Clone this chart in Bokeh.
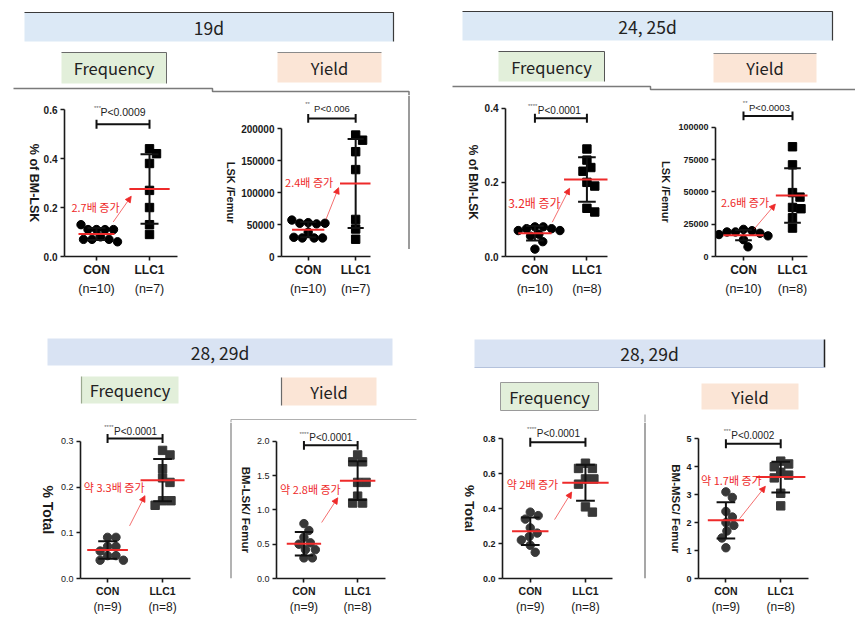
import math
import numpy as np
from bokeh.plotting import figure
from bokeh.layouts import column, row
from bokeh.models import Range1d, FixedTicker, LinearAxis, PrintfTickFormatter, Arrow, NormalHead
from bokeh.core.properties import value
from bokeh.embed import file_html
from bokeh.resources import INLINE

# ---------------- data ----------------
groups = ["CON", "LLC1"]

# 19d
freq19_con = [0.11, 0.11, 0.11, 0.11, 0.13, 0.08, 0.07, 0.07, 0.07, 0.06]
freq19_llc = [0.44, 0.42, 0.38, 0.27, 0.20, 0.13, 0.09]
yield19_con = [53000, 51000, 52000, 52000, 57000, 38000, 29000, 29000, 29000, 30000]
yield19_llc = [190000, 182000, 164000, 136000, 58000, 43000, 27000]
# 24, 25d
freq24_con = [0.08, 0.08, 0.075, 0.075, 0.07, 0.07, 0.06, 0.055, 0.04, 0.02]
freq24_llc = [0.29, 0.26, 0.24, 0.23, 0.20, 0.19, 0.13, 0.12]
yield24_con = [21000, 20000, 19000, 19000, 18000, 17000, 16000, 15000, 13000, 7500]
yield24_llc = [85000, 71000, 49500, 46000, 38000, 37000, 30000, 22000]
# 28, 29d (LSK)
freq28_con = [0.09, 0.09, 0.07, 0.07, 0.06, 0.05, 0.05, 0.04, 0.04]
freq28_llc = [0.28, 0.27, 0.24, 0.22, 0.21, 0.17, 0.17, 0.16]
yield28_con = [0.80, 0.70, 0.60, 0.52, 0.50, 0.42, 0.42, 0.30, 0.30]
yield28_llc = [1.8, 1.7, 1.7, 1.4, 1.4, 1.2, 1.1, 1.1]
# 28, 29d (MSC)
msc_freq_con = [0.38, 0.36, 0.34, 0.29, 0.26, 0.24, 0.22, 0.19, 0.15]
msc_freq_llc = [0.66, 0.63, 0.63, 0.57, 0.57, 0.54, 0.41, 0.38]
msc_yield_con = [3.1, 2.9, 2.4, 2.2, 2.0, 1.9, 1.7, 1.45, 1.1]
msc_yield_llc = [4.2, 4.1, 4.0, 3.8, 3.7, 3.6, 3.05, 2.6]

p_labels = ["P<0.0009", "P<0.006", "P<0.0001", "P<0.0003",
            "P<0.0001", "P<0.0001", "P<0.0001", "P<0.0002"]
star_labels = ["***", "**", "****", "**", "****", "****", "****", "***"]
fold_labels = ["2.7배 증가", "2.4배 증가", "3.2배 증가", "2.6배 증가",
               "약 3.3배 증가", "약 2.8배 증가", "약 2배 증가", "약 1.7배 증가"]
y_titles = ["% of BM-LSK", "LSK /Femur", "% of BM-LSK", "LSK /Femur",
            "% Total", "BM-LSK/ Femur", "% Total", "BM-MSC/ Femur"]
y_ticks = [[0, 0.2, 0.4, 0.6], [0, 50000, 100000, 150000, 200000],
           [0, 0.2, 0.4], [0, 25000, 50000, 75000, 100000],
           [0, 0.1, 0.2, 0.3], [0, 0.5, 1.0, 1.5, 2.0],
           [0, 0.2, 0.4, 0.6, 0.8], [0, 1, 2, 3, 4, 5]]
period_titles = ["19d", "24, 25d", "28, 29d", "28, 29d"]
box_titles = ["Frequency", "Yield"]

series = [(freq19_con, freq19_llc), (yield19_con, yield19_llc),
          (freq24_con, freq24_llc), (yield24_con, yield24_llc),
          (freq28_con, freq28_llc), (yield28_con, yield28_llc),
          (msc_freq_con, msc_freq_llc), (msc_yield_con, msc_yield_llc)]

RED = "#ee2a2a"
AX = "#1a1a1a"
FONT = "Liberation Sans"
KFONT = "Noto Sans CJK KR"

# ---------------- layout / annotation spec per panel ----------------
# tw: width of the strip holding the y title, tx: title centre inside that strip
specs = [
    dict(tw=40, tx=33, w=172, h=215, mbl=24, mbr=35, mbb=52, x0=0.396, x1=2.528, ymax=0.6577, fmt="%.1f",
         tfs="10px", tst="bold", yfs="12.5px", cfs="12px", nfs="12.5px", cst=2, nst=2,
         br=0.540, pt=(1.5, 0.589), pfs="10.5px", fold=(0.98, 0.204), ffs="11px",
         arr=(1.315, 0.141, 1.655, 0.246), hw=(0.34, 0.38), pc="#000000"),
    dict(tw=26, tx=18, w=169, h=215, mbl=42, mbr=37, mbb=50, x0=0.4375, x1=2.3125, ymax=251900, fmt="%d",
         tfs="10px", tst="bold", yfs="11px", cfs="12px", nfs="12.5px", cst=2, nst=2,
         br=216000, pt=(1.5, 232000), pfs="9.5px", fold=(1.02, 116900), ffs="11px",
         arr=(1.375, 58100, 1.64, 107700), hw=(0.34, 0.33), pc="#000000"),
    dict(tw=71, tx=62, w=169, h=215, mbl=22, mbr=43, mbb=54, x0=0.434, x1=2.396, ymax=0.4343, fmt="%.1f",
         tfs="10px", tst="bold", yfs="12px", cfs="12px", nfs="12.5px", cst=2, nst=2,
         br=0.373, pt=(1.47, 0.394), pfs="10px", fold=(0.99, 0.146), ffs="12px",
         arr=(1.334, 0.0925, 1.666, 0.184), hw=(0.32, 0.44), pc="#000000"),
    dict(tw=25, tx=15, w=180, h=215, mbl=40, mbr=48, mbb=52, x0=0.429, x1=2.306, ymax=124700, fmt="%d",
         tfs="9px", tst="bold", yfs="11px", cfs="12px", nfs="12.5px", cst=2, nst=2,
         br=108900, pt=(1.53, 115500), pfs="9.5px", fold=(1.03, 41900), ffs="11px",
         arr=(1.22, 21400, 1.65, 40600), hw=(0.41, 0.34), pc="#000000"),
    dict(tw=57, tx=47, w=172, h=211, mbl=22, mbr=39, mbb=53, x0=0.508, x1=2.508, ymax=0.341, fmt="%.1f",
         tfs="9px", tst="normal", yfs="14px", cfs="10.5px", nfs="12px", cst=2, nst=0,
         br=0.306, pt=(1.51, 0.322), pfs="10px", fold=(1.12, 0.201), ffs="11px",
         arr=(1.40, 0.115, 1.68, 0.181), hw=(0.37, 0.40), pc="#383838"),
    dict(tw=21, tx=13, w=177, h=211, mbl=22, mbr=45, mbb=53, x0=0.489, x1=2.519, ymax=2.273, fmt="%.1f",
         tfs="9px", tst="normal", yfs="11.5px", cfs="10.5px", nfs="12px", cst=2, nst=0,
         br=1.94, pt=(1.50, 2.05), pfs="10px", fold=(1.12, 1.31), ffs="11px",
         arr=(1.33, 0.816, 1.63, 1.176), hw=(0.32, 0.33), pc="#383838"),
    dict(tw=49, tx=39, w=164, h=211, mbl=22, mbr=31, mbb=55, x0=0.497, x1=2.49, ymax=0.893, fmt="%.1f",
         tfs="9px", tst="bold", yfs="13.5px", cfs="10.5px", nfs="12px", cst=2, nst=0,
         br=0.78, pt=(1.51, 0.832), pfs="10px", fold=(1.04, 0.543), ffs="11px",
         arr=(1.44, 0.337, 1.75, 0.495), hw=(0.33, 0.42), pc="#383838"),
    dict(tw=37, tx=29, w=172, h=211, mbl=14, mbr=47, mbb=55, x0=0.5, x1=2.507, ymax=5.583, fmt="%d",
         tfs="9px", tst="bold", yfs="11.5px", cfs="10.5px", nfs="12px", cst=2, nst=0,
         br=4.82, pt=(1.49, 5.12), pfs="10px", fold=(1.10, 3.51), ffs="11px",
         arr=(1.25, 2.14, 1.72, 3.30), hw=(0.33, 0.45), pc="#383838"),
]


def swarm(vals, px_y, px_x, diam=8.4):
    placed, offs = [], []
    for v in vals:
        y = v * px_y
        best = 0.0
        for k in range(0, 200):
            cands = [0.0] if k == 0 else [k * 0.5, -k * 0.5]
            found = None
            for c in cands:
                if all((c - xo) ** 2 + (y - yo) ** 2 >= diam ** 2 for xo, yo in placed):
                    found = c
                    break
            if found is not None:
                best = found
                break
        placed.append((best, y))
        offs.append(best / px_x)
    return offs


def style_axis(ax):
    ax.minor_tick_line_color = None
    ax.major_tick_out = 4
    ax.major_tick_in = 0
    ax.axis_line_width = 1.6
    ax.major_tick_line_width = 1.6
    ax.axis_line_color = AX
    ax.major_tick_line_color = AX
    ax.major_label_text_font = FONT
    ax.major_label_text_color = AX


def title_strip(i):
    """Narrow strip left of a panel carrying its y title, reading top to bottom."""
    s = specs[i]
    p = figure(width=s["tw"], height=s["h"], x_range=Range1d(0, s["tw"]), y_range=Range1d(0, s["ymax"]),
               x_axis_type=None, y_axis_type=None, min_border_left=0, min_border_right=0,
               min_border_top=0, min_border_bottom=s["mbb"], outline_line_color=None,
               toolbar_location=None, output_backend="svg")
    p.grid.visible = False
    p.text(x=[s["tx"]], y=[y_ticks[i][-1] / 2], text=[y_titles[i]], angle=-math.pi / 2,
           text_align="center", text_baseline="middle", text_font=value(FONT),
           text_font_style="bold", text_font_size=s["yfs"], text_color=AX)
    return p


def make_panel(i):
    s = specs[i]
    con, llc = series[i]
    p = figure(width=s["w"], height=s["h"], x_range=Range1d(s["x0"], s["x1"]),
               y_range=Range1d(0, s["ymax"]), output_backend="svg", toolbar_location=None,
               min_border_left=s["mbl"], min_border_right=s["mbr"], min_border_top=0,
               min_border_bottom=s["mbb"], outline_line_color=None)
    p.grid.visible = False
    frame_w = s["w"] - s["mbl"] - s["mbr"]
    frame_h = s["h"] - s["mbb"]
    px_x = frame_w / (s["x1"] - s["x0"])
    px_y = frame_h / s["ymax"]

    # y axis
    ya = p.yaxis[0]
    style_axis(ya)
    ya.ticker = FixedTicker(ticks=y_ticks[i])
    ya.formatter = PrintfTickFormatter(format=s["fmt"])
    ya.bounds = (0, y_ticks[i][-1])
    ya.major_label_text_font_size = s["tfs"]
    ya.major_label_text_font_style = s["tst"]
    ya.major_label_standoff = 3

    # x axis (group names)
    xa = p.xaxis[0]
    style_axis(xa)
    xa.ticker = FixedTicker(ticks=[1, 2])
    xa.major_label_overrides = {1: groups[0], 2: groups[1]}
    xa.major_label_text_font_size = s["cfs"]
    xa.major_label_text_font_style = "bold"
    xa.major_label_standoff = s["cst"]

    # second x axis: sample sizes
    xa2 = LinearAxis(ticker=FixedTicker(ticks=[1, 2]),
                     major_label_overrides={1: f"(n={len(con)})", 2: f"(n={len(llc)})"},
                     axis_line_color=None, major_tick_line_color=None, minor_tick_line_color=None,
                     major_tick_out=0, major_tick_in=0, major_label_standoff=s["nst"],
                     major_label_text_font=FONT, major_label_text_font_size=s["nfs"],
                     major_label_text_color=AX)
    p.add_layout(xa2, "below")

    # points
    for gi, (vals, marker) in enumerate([(con, "circle"), (llc, "square")]):
        offs = swarm(vals, px_y, px_x)
        xs = [gi + 1 + o for o in offs]
        p.scatter(xs, vals, marker=marker, size=8.4, fill_color=s["pc"], line_color=s["pc"])

    # SD bars and red mean lines
    for gi, vals in enumerate([con, llc]):
        m = float(np.mean(vals))
        sd = float(np.std(vals, ddof=1))
        xc = gi + 1
        p.segment(x0=[xc, xc - 0.17, xc - 0.17], y0=[m - sd, m - sd, m + sd],
                  x1=[xc, xc + 0.17, xc + 0.17], y1=[m + sd, m - sd, m + sd],
                  line_color="#111111", line_width=2)
        hw = s["hw"][gi]
        p.segment(x0=[xc - hw], y0=[m], x1=[xc + hw], y1=[m], line_color=RED, line_width=2)

    # significance bracket
    b = s["br"]
    tick_h = 4.5 / px_y
    p.segment(x0=[1, 1, 2], y0=[b, b - tick_h, b - tick_h], x1=[2, 1, 2], y1=[b, b + tick_h, b + tick_h],
              line_color="#111111", line_width=2)
    p.text(x=[s["pt"][0]], y=[s["pt"][1]], text=[p_labels[i]], text_font=value(FONT),
           text_font_size=s["pfs"], text_color="#222222", text_align="center", text_baseline="middle")
    p.text(x=[s["pt"][0]], y=[s["pt"][1]], text=[star_labels[i]], text_font=value(FONT),
           text_font_size="6px", text_color="#666666", text_align="right", text_baseline="middle",
           x_offset=-22, y_offset=-4)

    # fold-change annotation
    p.text(x=[s["fold"][0]], y=[s["fold"][1]], text=[fold_labels[i]], text_font=value(KFONT),
           text_font_size=s["ffs"], text_color=RED, text_align="center", text_baseline="middle")
    a = s["arr"]
    p.add_layout(Arrow(end=NormalHead(size=6, fill_color=RED, line_color=RED, line_width=0.8),
                       x_start=a[0], y_start=a[1], x_end=a[2], y_end=a[3],
                       line_color=RED, line_width=0.8, line_alpha=0.85))
    return p


# ---------------- header decorations ----------------
def header(height, y_top, bars, boxes, lines):
    p = figure(width=855, height=height, x_range=Range1d(0, 855), y_range=Range1d(y_top + height, y_top),
               x_axis_type=None, y_axis_type=None, min_border=0, outline_line_color=None,
               toolbar_location=None, output_backend="svg")
    p.grid.visible = False
    for (l, r, t, bt, col, txt) in bars:
        p.quad(left=[l], right=[r], top=[t], bottom=[bt], fill_color=col, line_color=None)
        p.text(x=[(l + r) / 2], y=[(t + bt) / 2], text=[txt], text_font=value(KFONT),
               text_font_size="17.5px", text_color="#222222", text_align="center", text_baseline="middle")
    for (l, r, t, bt, col, txt) in boxes:
        p.quad(left=[l], right=[r], top=[t], bottom=[bt], fill_color=col, line_color=None)
        p.text(x=[(l + r) / 2], y=[(t + bt) / 2], text=[txt], text_font=value(KFONT),
               text_font_size="16.5px", text_color="#222222", text_align="center", text_baseline="middle")
    for (xs, ys, col, lw) in lines:
        p.line(xs, ys, line_color=col, line_width=lw)
    return p


BLUE1 = "#dce9f6"
BLUE2 = "#d9e3f3"
GREEN = "#e2efda"
PEACH = "#fbe5d6"

h1 = header(95, 0,
            bars=[(24, 393, 12, 41, BLUE1, period_titles[0]), (462, 832, 11, 40, BLUE1, period_titles[1])],
            boxes=[(61, 166, 52, 83, GREEN, box_titles[0]), (277, 381, 52, 82, PEACH, box_titles[1]),
                   (498, 604, 51, 81, GREEN, box_titles[0]), (713, 816, 53, 82, PEACH, box_titles[1])],
            lines=[([24, 393, 393], [12, 12, 41], "#3a3a3a", 1.2),
                   ([462, 832, 832], [11, 11, 40], "#3a3a3a", 1.2),
                   ([61, 166, 166], [52, 52, 83], "#6a6a6a", 1),
                   ([277, 381], [52, 52], "#8a8a8a", 1),
                   ([498, 604, 604], [51, 51, 81], "#555555", 1),
                   ([713, 816], [53, 53], "#8a8a8a", 1),
                   ([13, 212, 212, 408.5, 408.5], [88, 88, 91, 91, 95], "#7a7a7a", 1.5),
                   ([452, 650, 650, 855], [86, 86, 89, 89], "#7a7a7a", 1.5)])

h2 = header(112, 310,
            bars=[(47, 392, 338, 365, BLUE2, period_titles[2]), (474, 824, 339, 367, BLUE2, period_titles[3])],
            boxes=[(81, 178, 376, 403, GREEN, box_titles[0]), (281, 376, 377, 405, PEACH, box_titles[1]),
                   (500, 598, 382, 410, GREEN, box_titles[0]), (701, 798, 383, 409, PEACH, box_titles[1])],
            lines=[([824, 824], [339, 367], "#222222", 1.5),
                   ([474, 824], [367, 367], "#b4c2dc", 1),
                   ([81, 81], [376, 403], "#9aa88f", 1.2),
                   ([281, 281], [377, 405], "#6a6a6a", 1.2),
                   ([500, 598, 598, 500, 500], [382, 382, 410, 410, 382], "#9a9a9a", 1),
                   ([230.5, 416], [419, 419], "#b0b0b0", 1),
                   ([230.5, 230.5], [419, 422], "#9a9a9a", 1),
                   ([644.5, 644.5], [414, 422], "#8a8a8a", 1)])


def vline(height, y_end, col):
    p = figure(width=3, height=height, x_range=Range1d(0, 3), y_range=Range1d(height, 0),
               x_axis_type=None, y_axis_type=None, min_border=0, outline_line_color=None,
               toolbar_location=None, output_backend="svg")
    p.grid.visible = False
    p.segment(x0=[1.5], y0=[0], x1=[1.5], y1=[y_end], line_color=col, line_width=1.5)
    return p


panels = [make_panel(i) for i in range(8)]
strips = [title_strip(i) for i in range(8)]
row1 = row(strips[0], panels[0], strips[1], panels[1], vline(215, 205, "#7a7a7a"),
           strips[2], panels[2], strips[3], panels[3], spacing=0)
row2 = row(strips[4], panels[4], vline(211, 211, "#9a9a9a"), strips[5], panels[5],
           strips[6], panels[6], vline(211, 211, "#8a8a8a"), strips[7], panels[7], spacing=0)
layout = column(h1, row1, h2, row2, spacing=0)

open("out.html", "w").write(file_html(layout, INLINE))
